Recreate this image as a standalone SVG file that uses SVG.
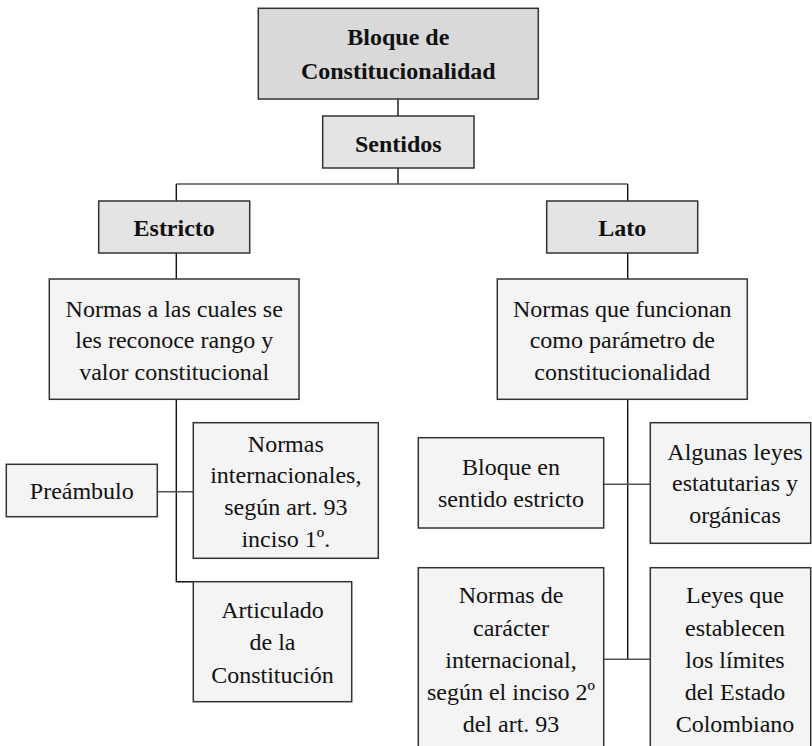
<svg xmlns="http://www.w3.org/2000/svg" width="812" height="746" viewBox="0 0 812 746">
<style>
.box{stroke:#333;stroke-width:1.5}
.dark{fill:#d9d9d9}
.mid{fill:#e4e4e4}
.light{fill:#f4f4f4}
.t{font-family:"Liberation Serif","Times New Roman",serif;font-size:24px;fill:#111;text-anchor:middle}
.b{font-weight:bold}
.v{stroke:#111;stroke-width:1.4;fill:none}
.h{stroke:#555;stroke-width:1.6;fill:none}
</style>
<rect width="812" height="746" fill="#fff"/>
<g id="connectors">
<line class="v" x1="398" y1="99" x2="398" y2="116"/>
<line class="v" x1="398" y1="168" x2="398" y2="184"/>
<line class="h" x1="176.3" y1="184" x2="627.7" y2="184"/>
<line class="v" x1="176.3" y1="184" x2="176.3" y2="201"/>
<line class="v" x1="627.7" y1="184" x2="627.7" y2="201"/>
<line class="v" x1="176.3" y1="253" x2="176.3" y2="279"/>
<line class="v" x1="627.7" y1="253" x2="627.7" y2="279"/>
<polyline class="v" points="176.3,399.3 176.3,581.7 193.3,581.7"/>
<line class="h" x1="157.3" y1="491.7" x2="193.3" y2="491.7"/>
<line class="v" x1="627.7" y1="399.3" x2="627.7" y2="659.3"/>
<line class="h" x1="603.7" y1="484.3" x2="650.3" y2="484.3"/>
<line class="h" x1="603.7" y1="659.3" x2="650.3" y2="659.3"/>
</g>
<g id="bloque">
<rect class="box dark" x="258.3" y="8.3" width="280" height="90.7"/>
<text class="t b" x="398.3" y="45">Bloque de</text>
<text class="t b" x="398.3" y="79">Constitucionalidad</text>
</g>
<g id="sentidos">
<rect class="box mid" x="322.7" y="116" width="151.3" height="52"/>
<text class="t b" x="398.3" y="152">Sentidos</text>
</g>
<g id="estricto">
<rect class="box mid" x="98.7" y="201" width="151" height="52"/>
<text class="t b" x="174.2" y="235.7">Estricto</text>
</g>
<g id="lato">
<rect class="box mid" x="546.7" y="201" width="151" height="52"/>
<text class="t b" x="622.2" y="235.7">Lato</text>
</g>
<g id="normas-rango">
<rect class="box light" x="49.3" y="279" width="249.7" height="120.3"/>
<text class="t" x="174.2" y="316.7">Normas a las cuales se</text>
<text class="t" x="174.2" y="348.3">les reconoce rango y</text>
<text class="t" x="174.2" y="380">valor constitucional</text>
</g>
<g id="normas-parametro">
<rect class="box light" x="497.3" y="279" width="250" height="120.3"/>
<text class="t" x="622.3" y="316.7">Normas que funcionan</text>
<text class="t" x="622.3" y="348.3">como parámetro de</text>
<text class="t" x="622.3" y="380">constitucionalidad</text>
</g>
<g id="preambulo">
<rect class="box light" x="6.3" y="464.3" width="151" height="52.4"/>
<text class="t" x="81.8" y="499.3">Preámbulo</text>
</g>
<g id="normas-internacionales">
<rect class="box light" x="193.3" y="422.7" width="185" height="135.6"/>
<text class="t" x="285.8" y="451.7">Normas</text>
<text class="t" x="285.8" y="483.3">internacionales,</text>
<text class="t" x="285.8" y="515">según art. 93</text>
<text class="t" x="285.8" y="546.7">inciso 1º.</text>
</g>
<g id="articulado">
<rect class="box light" x="193.3" y="581.7" width="158.4" height="120"/>
<text class="t" x="272.5" y="618.3">Articulado</text>
<text class="t" x="272.5" y="650">de la</text>
<text class="t" x="272.5" y="682.7">Constitución</text>
</g>
<g id="bloque-estricto">
<rect class="box light" x="418.3" y="437.7" width="185.4" height="90.3"/>
<text class="t" x="511" y="475">Bloque en</text>
<text class="t" x="511" y="506.7">sentido estricto</text>
</g>
<g id="leyes-estatutarias">
<rect class="box light" x="650.3" y="422.7" width="160.4" height="120.6"/>
<text class="t" x="735" y="460">Algunas leyes</text>
<text class="t" x="735" y="490.7">estatutarias y</text>
<text class="t" x="735" y="522.7">orgánicas</text>
</g>
<g id="normas-caracter">
<rect class="box light" x="418.3" y="567.7" width="185.4" height="200"/>
<text class="t" x="511" y="603.3">Normas de</text>
<text class="t" x="511" y="635.7">carácter</text>
<text class="t" x="511" y="668.3">internacional,</text>
<text class="t" x="511" y="700">según el inciso 2º</text>
<text class="t" x="511" y="731.7">del art. 93</text>
</g>
<g id="leyes-limites">
<rect class="box light" x="650.3" y="567.7" width="160.4" height="200"/>
<text class="t" x="735" y="603.3">Leyes que</text>
<text class="t" x="735" y="635.7">establecen</text>
<text class="t" x="735" y="668.3">los límites</text>
<text class="t" x="735" y="700">del Estado</text>
<text class="t" x="735" y="731.7">Colombiano</text>
</g>
</svg>
